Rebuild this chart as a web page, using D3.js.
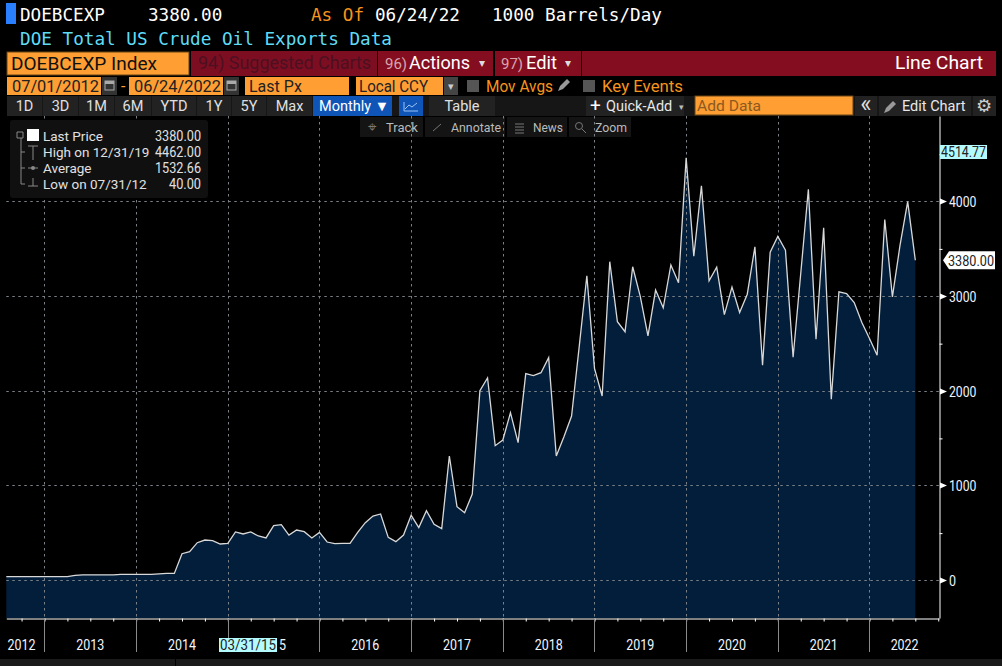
<!DOCTYPE html>
<html>
<head>
<meta charset="utf-8">
<script src="https://cdn.jsdelivr.net/npm/d3@7"></script>
<style>
  html, body { margin: 0; padding: 0; background: #000; overflow: hidden; }
  svg { display: block; }
  text { font-family: Roboto, "Liberation Sans", sans-serif; font-size: 14.5px; }
  .mono { font-family: "DejaVu Sans Mono", monospace; font-size: 17.65px; }
</style>
</head>
<body>
<div id="chart"></div>
<script>
// monthly values, Jul 2012 to Jun 2022, 1000 barrels/day
const exportsData = [
  40, 40, 40, 40, 40, 40, 40, 40, 40, 55, 60, 60, 60, 60, 60, 65, 65, 65, 65, 65, 70, 75, 75, 283,
  304, 399, 427, 420, 385, 392, 512, 491, 512, 470, 449, 579, 589, 480, 533, 515, 449, 508, 406, 389,
  391, 392, 508, 610, 680, 702, 455, 410, 480, 688, 558, 737, 593, 547, 1314, 779, 716, 913, 2003, 2137,
  1423, 1483, 1771, 1455, 2183, 2162, 2193, 2352, 1314, 1518, 1736, 2468, 3217, 2239, 1947, 3365, 2731, 2626, 3312, 2996,
  2581, 3066, 2878, 3331, 3142, 4462, 3423, 4165, 3163, 3307, 2807, 3096, 2829, 3022, 3522, 2273, 3465, 3631, 3486, 2357,
  3240, 4130, 2547, 3722, 1914, 3047, 3029, 2934, 2723, 2554, 2378, 3810, 2994, 3539, 4000, 3380
];
const yTicks = [0, 1000, 2000, 3000, 4000];
const yMinorTicks = [500, 1500, 2500, 3500, 4500];
const yearNames = ['2012', '2013', '2014', '2015', '2016', '2017', '2018', '2019', '2020', '2021', '2022'];
const yearLabelMonths = [2, 11, 23, 34.8, 47, 59, 71, 83, 95, 107, 117.6]; // month index under each label
const yearEndMonths = [5, 17, 29, 41, 53, 65, 77, 89, 101, 113];
const legendRows = [
  ['Last Price', '3380.00'],
  ['High on 12/31/19', '4462.00'],
  ['Average', '1532.66'],
  ['Low on 07/31/12', '40.00']
];
const rangeButtons = [['1D', 7, 35], ['3D', 43, 35], ['1M', 79, 35], ['6M', 115, 36], ['YTD', 152, 44], ['1Y', 197, 34], ['5Y', 232, 34], ['Max', 267, 45]];
const lastValue = 3380;

const width = 1002;
const height = 666;
const orange = '#ff9e33';
const red = '#850d20';

const svg = d3.select('#chart').append('svg').attr('width', width).attr('height', height);

const xScale = d3.scaleLinear().domain([0, 122.1]).range([6.3, 939]);
const yScale = d3.scaleLinear().domain([-396, 4903]).range([618, 116]);

function box(x, y, w, h, fill, parent = svg) {
  return parent.append('rect').attr('x', x).attr('y', y).attr('width', w).attr('height', h).attr('fill', fill);
}

function label(x, y, str, fill = '#e6e6e6', anchor = 'start', cls = null, parent = svg) {
  return parent.append('text').attr('x', x).attr('y', y).attr('fill', fill)
    .attr('text-anchor', anchor).attr('class', cls).text(str);
}

// squeeze or stretch a text to the width it has in the reference
function fit(sel, w) {
  return sel.attr('textLength', w).attr('lengthAdjust', 'spacingAndGlyphs');
}

function checkbox(x) {
  box(x, 80, 12, 12, '#555');
}

function calendar(x) {
  box(x, 77, 15, 18, '#333');
  svg.append('rect').attr('x', x + 3).attr('y', 81).attr('width', 9).attr('height', 9)
    .attr('fill', 'none').attr('stroke', '#aaa');
  box(x + 3, 81, 9, 3, '#aaa');
}

function pencil(x, y) {
  svg.append('path').attr('d', `M${x},${y + 11}l2,-5l7,-7l3,3l-7,7z`).attr('fill', '#999');
}

// ---- header text ----
box(6, 3, 10, 21, '#2a7fff');
label(20, 21, 'DOEBCEXP', '#fff', 'start', 'mono');
label(148, 21, '3380.00', '#fff', 'start', 'mono');
label(311, 21, 'As Of', '#f7941d', 'start', 'mono');
label(375, 21, '06/24/22', '#fff', 'start', 'mono');
label(492, 21, '1000 Barrels/Day', '#fff', 'start', 'mono');
fit(label(20, 45, 'DOE Total US Crude Oil Exports Data', '#5fdcf5', 'start', 'mono'), 372);

// ---- red command row ----
box(7, 52, 182, 23, orange).attr('stroke', '#6b4415');
fit(label(11, 70, 'DOEBCEXP Index', '#111').style('font-size', '18px'), 146);
box(191, 51, 186, 25, '#7d0e22');
box(378, 51, 115, 25, red);
box(495, 51, 86, 25, red);
box(582, 51, 414, 25, red);
fit(label(198, 69, '94) Suggested Charts', '#4c1020').style('font-size', '17.5px'), 173);
label(385, 69, '96)', '#d8a5ae').style('font-size', '15px');
fit(label(409, 69, 'Actions', '#fff').style('font-size', '17.5px'), 61);
label(479, 67, '▾', '#ddd').style('font-size', '12px');
label(501, 69, '97)', '#d8a5ae').style('font-size', '15px');
fit(label(526, 69, 'Edit', '#fff').style('font-size', '17.5px'), 31);
label(565, 67, '▾', '#ddd').style('font-size', '12px');
fit(label(895, 69, 'Line Chart', '#fff').style('font-size', '17.5px'), 88);

// ---- date row ----
box(7, 77, 94, 18, orange);
fit(label(12, 92, '07/01/2012', '#222').style('font-size', '16px'), 87);
calendar(102);
label(121, 92, '-', orange).style('font-size', '16px');
box(129, 77, 94, 18, orange);
fit(label(134, 92, '06/24/2022', '#222').style('font-size', '16px'), 87);
calendar(224);
box(245, 77, 104, 18, orange);
label(249, 92, 'Last Px', '#222').style('font-size', '16px');
box(356, 77, 87, 18, orange);
fit(label(359, 92, 'Local CCY', '#222').style('font-size', '16px'), 69);
box(444, 77, 14, 18, '#444');
label(451, 90, '▾', '#ccc', 'middle').style('font-size', '11px');
checkbox(467);
fit(label(486, 92, 'Mov Avgs', '#f7941d').style('font-size', '16px'), 67);
pencil(558, 80);
checkbox(583);
fit(label(602, 92, 'Key Events', '#f7941d').style('font-size', '16px'), 81);

// ---- range buttons row ----
box(7, 96, 989, 20, '#161616');
rangeButtons.forEach(([name, x, w]) => {
  box(x, 96, w, 20, '#222');
  label(x + w / 2, 111, name, '#e0e0e0', 'middle');
});
box(313, 96, 79, 20, '#0f55b8');
label(319, 111, 'Monthly ▼', '#fff');
box(399, 96, 24, 20, '#0f55b8');
svg.append('path').attr('d', 'M404,102v9h14M405,109l4,-4l3,2l5,-4').attr('fill', 'none').attr('stroke', '#9cc3f5');
box(429, 96, 66, 20, '#222');
label(462, 111, 'Table', '#e0e0e0', 'middle');
box(586, 96, 98, 20, '#222');
label(590, 111.5, '+', '#fff').style('font-size', '19px');
label(606, 111, 'Quick-Add', '#e8e8e8');
label(681, 110, '▾', '#bbb', 'middle').style('font-size', '9px');
box(695, 96, 158, 19, orange).attr('stroke', '#6b4415');
fit(label(697, 111, 'Add Data', '#8a5a20').style('font-size', '15.5px'), 64);
box(855, 96, 22, 20, '#222');
label(866, 112, '«', '#ddd', 'middle').style('font-size', '24px');
box(879, 96, 92, 20, '#222');
pencil(884, 102);
label(902, 111, 'Edit Chart', '#e8e8e8');
box(973, 96, 23, 20, '#222');
label(984, 112, '⚙', '#ccc', 'middle').style('font-family', 'DejaVu Sans').style('font-size', '18px');

// ---- floating chart toolbar ----
box(360, 117, 63, 20, '#141414');
box(425, 117, 80, 20, '#141414');
box(507, 117, 60, 20, '#141414');
box(569, 117, 62, 20, '#141414');
label(372, 132, '⌖', '#777', 'middle').style('font-family', 'DejaVu Sans');
label(386, 131.5, 'Track', '#bbb').style('font-size', '13px');
fit(label(451, 131.5, 'Annotate', '#bbb').style('font-size', '13px'), 50);
fit(label(533, 131.5, 'News', '#bbb').style('font-size', '13px'), 30);
fit(label(595, 131.5, 'Zoom', '#bbb').style('font-size', '13px'), 32);
svg.append('path').attr('d', 'M433,131l8,-7M515,124h9M515,127h9M515,130h9M515,133h9').attr('stroke', '#777').attr('fill', 'none');
svg.append('circle').attr('cx', 579).attr('cy', 126).attr('r', 3.5).attr('fill', 'none').attr('stroke', '#777');
svg.append('path').attr('d', 'M582,129l4,4').attr('stroke', '#777');

// ---- area and line ----
const area = d3.area()
  .x((d, i) => xScale(i))
  .y0(yScale.range()[0])
  .y1((d) => yScale(d));
const line = d3.line()
  .x((d, i) => xScale(i))
  .y((d) => yScale(d));

svg.append('path').datum(exportsData).attr('d', area).attr('fill', '#031e3a');

// ---- gridlines, dashed over the area ----
const grid = svg.append('g').attr('stroke', '#7b8087').attr('stroke-width', 1).attr('stroke-dasharray', '2.5,3.5');
grid.selectAll('.h').data(yTicks).join('line').attr('class', 'h')
  .attr('x1', xScale(0)).attr('x2', xScale.range()[1])
  .attr('y1', (d) => Math.floor(yScale(d)) + 0.5).attr('y2', (d) => Math.floor(yScale(d)) + 0.5);
grid.selectAll('.v').data(yearEndMonths).join('line').attr('class', 'v')
  .attr('x1', (d) => Math.round(xScale(d)) + 0.5).attr('x2', (d) => Math.round(xScale(d)) + 0.5)
  .attr('y1', 116).attr('y2', 618);

svg.append('path').datum(exportsData).attr('d', line)
  .attr('fill', 'none').attr('stroke', '#d8d8d8').attr('stroke-width', 1.3).attr('stroke-linejoin', 'miter');

// ---- axes ----
const xAxis = d3.axisBottom(xScale).tickValues(d3.range(2, 123, 3)).tickFormat('').tickSize(3).tickSizeOuter(0);
const gx = svg.append('g').attr('transform', 'translate(0,618.5)').call(xAxis);
gx.selectAll('path, line').attr('stroke', '#fff').attr('stroke-width', 1);

const yAxis = d3.axisRight(yScale).tickValues(yMinorTicks).tickFormat('').tickSize(3).tickSizeOuter(0);
const gy = svg.append('g').attr('transform', 'translate(939.5,0)').call(yAxis);
gy.selectAll('path, line').attr('stroke', '#fff').attr('stroke-width', 1);

// year separators below the axis and year names
svg.append('g').selectAll('line').data(yearEndMonths).join('line')
  .attr('x1', (d) => Math.round(xScale(d)) + 0.5).attr('x2', (d) => Math.round(xScale(d)) + 0.5)
  .attr('y1', 619).attr('y2', 652).attr('stroke', '#8a8a8a');
yearNames.forEach((y, i) => {
  const t = label(xScale(yearLabelMonths[i]), 649.5, y, '#f2f6ff', 'middle').style('font-size', '15px');
  fit(t, 28);
});

// y tick markers and labels
yTicks.forEach((v) => {
  const yy = Math.floor(yScale(v)) + 0.5;
  svg.append('path').attr('d', `M940,${yy - 3}l7,3l-7,3z`).attr('fill', '#fff');
  const t = label(949, yy + 5.5, d3.format('d')(v), '#eef4ff').style('font-size', '15px');
  fit(t, v === 0 ? 7 : 27.5);
});

// ---- hover tags ----
box(940, 145, 47, 14, '#b4fbff');
fit(label(941, 157, '4514.77', '#222').style('font-size', '14px'), 45);
svg.append('path')
  .attr('d', `M943,${yScale(lastValue)}l6,-9h46v18h-46z`).attr('fill', '#fff');
fit(label(948, yScale(lastValue) + 5.5, d3.format('.2f')(lastValue), '#222').style('font-size', '14px'), 46);

box(219, 638, 58, 14, '#b4fbff');
fit(label(220, 650, '03/31/15', '#222').style('font-size', '14px'), 56);

// ---- legend ----
box(10, 120, 198, 78, '#101010').attr('rx', 3);
box(27, 129, 12, 12, '#fff');
svg.append('path')
  .attr('d', 'M17,132h6v6h-6zM21,138v46h4M21,152h4M21,168h4M28,146h10M33,146v14M28,168h10M33,178v8M28,186h10')
  .attr('fill', 'none').attr('stroke', '#888');
svg.append('circle').attr('cx', 33).attr('cy', 168).attr('r', 2).attr('fill', '#888');
legendRows.forEach(([name, val], i) => {
  const rowY = 141 + i * 16;
  label(43, rowY, name, '#e0e0e0').style('font-size', '13.5px');
  fit(label(201, rowY, val, '#e0e0e0', 'end').style('font-size', '14px'), val.length === 5 ? 32 : 46);
});

// bottom strip of the window
box(0, 659, width, 7, '#1a1a1a');
box(175, 659, 1, 7, '#000');
</script>
</body>
</html>
